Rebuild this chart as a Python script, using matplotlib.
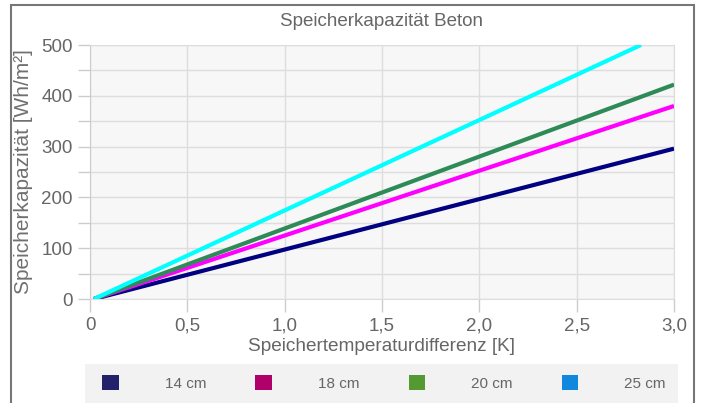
import matplotlib
matplotlib.use("Agg")
import matplotlib.pyplot as plt
from matplotlib.patches import Rectangle, Patch
from matplotlib.ticker import MultipleLocator, FuncFormatter

plt.rcParams["font.family"] = ["Liberation Sans", "DejaVu Sans"]

# line data
x_start = 0.02
x_end = [3.0, 3.0, 3.0, 2.83]
y_end = [296, 380, 422, 500]
labels = ["14 cm", "18 cm", "20 cm", "25 cm"]
line_colors = ["#000080", "#ff00ff", "#2e8b57", "#00ffff"]
legend_colors = ["#22226b", "#b0006a", "#559933", "#1188dd"]

grey = "#666666"

fig = plt.figure(figsize=(7.05, 4.03), dpi=100)
ax = fig.add_axes([90 / 705, 1 - 299 / 403, 584 / 705, 254 / 403])
ax.set_facecolor("#f7f7f7")

for xe, ye, c in zip(x_end, y_end, line_colors):
    ax.plot([x_start, xe], [0, ye], color=c, linewidth=3, solid_capstyle="butt", zorder=3)

ax.set_xlim(0, 3)
ax.set_ylim(0, 500)
ax.xaxis.set_major_locator(MultipleLocator(0.5))
ax.yaxis.set_major_locator(MultipleLocator(100))
ax.yaxis.set_minor_locator(MultipleLocator(50))
ax.xaxis.set_major_formatter(FuncFormatter(lambda v, p: "0" if v == 0 else f"{v:.1f}".replace(".", ",")))
ax.grid(True, which="both", color="#dddddd", linewidth=1)
ax.tick_params(axis="both", which="both", colors="#cccccc", labelcolor=grey,
               labelsize=13.5, length=9, width=1)
ax.tick_params(axis="x", pad=4)
for s in ax.spines.values():
    s.set_color("#dddddd")
ax.spines["left"].set_color("#cccccc")

ax.set_title("Speicherkapazität Beton", color=grey, fontsize=13.5, pad=14)
ax.set_xlabel("Speichertemperaturdifferenz [K]", color=grey, fontsize=13.7, labelpad=3)
ax.set_ylabel("Speicherkapazität [Wh/m²]", color="#707070", fontsize=15, labelpad=6)

# outer frame
fig.patches.append(Rectangle((11 / 705, -0.1), 683 / 705, 1.1 - 5 / 403,
                             transform=fig.transFigure, fill=False,
                             edgecolor="#777777", linewidth=1.5))
# legend background
fig.patches.append(Rectangle((85 / 705, 0), 593 / 705, 39 / 403,
                             transform=fig.transFigure, facecolor="#f2f2f2",
                             edgecolor="none", zorder=0))

handles = [Patch(facecolor=c, edgecolor="none") for c in legend_colors]
leg = fig.legend(handles, labels, loc="lower left", ncol=4, mode="expand",
                 bbox_to_anchor=(90 / 705, 0, 588 / 705, 39 / 403),
                 frameon=False, fontsize=11, handlelength=1.1, handleheight=1.1,
                 handletextpad=3.0, borderaxespad=0, borderpad=0.8)
for t in leg.get_texts():
    t.set_color(grey)

fig.savefig("out.png", dpi=100)
